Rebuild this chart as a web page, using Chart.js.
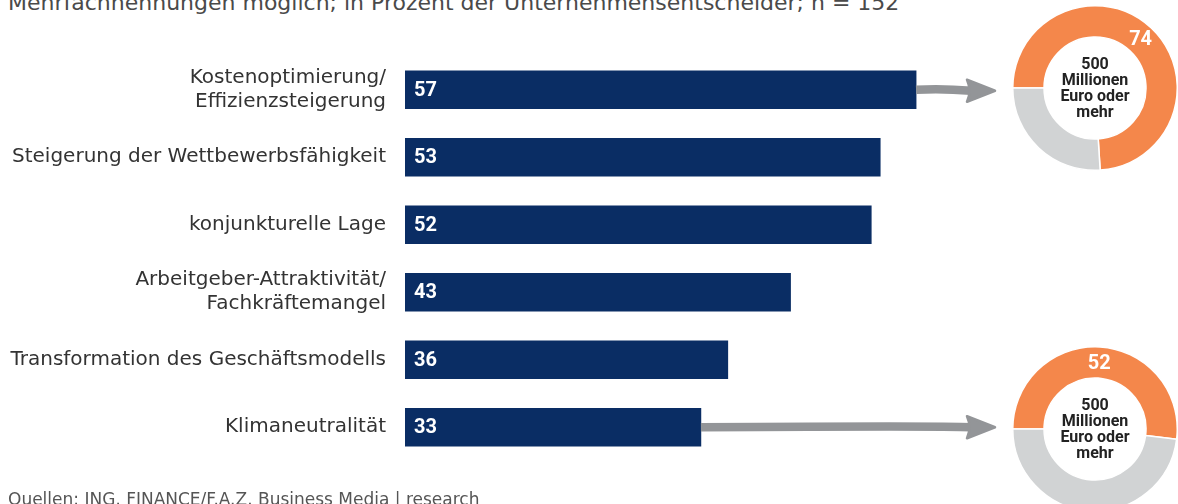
<!DOCTYPE html>
<html lang="de">
<head>
<meta charset="utf-8">
<title>Gründe für Investitionen</title>
<script src="https://cdn.jsdelivr.net/npm/chart.js@4.4.1/dist/chart.umd.min.js"></script>
<style>
  html,body{margin:0;padding:0;background:#fff}
  body{width:1178px;height:504px;position:relative;overflow:hidden;font-family:"DejaVu Sans",sans-serif}
  #sub{position:absolute;left:8px;top:-10px;font-size:22px;line-height:26px;color:#4a4a4a;white-space:nowrap}
  #src{position:absolute;left:8px;top:489px;font-size:17px;line-height:20px;color:#555;white-space:nowrap}
  #bars{position:absolute;left:0;top:0}
  .donut{position:absolute;left:1012px}
</style>
</head>
<body>
<div id="sub">Mehrfachnennungen möglich; in Prozent der Unternehmensentscheider; n = 152</div>
<canvas id="bars" width="1178" height="504"></canvas>
<canvas id="donutTop" class="donut" width="166" height="166" style="top:5px"></canvas>
<canvas id="donutClimate" class="donut" width="166" height="166" style="top:346px"></canvas>
<div id="src">Quellen: ING, FINANCE/F.A.Z. Business Media | research</div>

<script>
/* ---------- data ---------- */
const categories = [
  ['Kostenoptimierung/', 'Effizienzsteigerung'],
  'Steigerung der Wettbewerbsfähigkeit',
  'konjunkturelle Lage',
  ['Arbeitgeber-Attraktivität/', 'Fachkräftemangel'],
  'Transformation des Geschäftsmodells',
  'Klimaneutralität'
];
const shares = [57, 53, 52, 43, 36, 33];

// Firmen mit 500 Mio. Euro Umsatz oder mehr
const bigFirmLabels  = ['500 Mio. Euro oder mehr', 'übrige'];
const bigFirmCost    = [74, 26];   // Kostenoptimierung
const bigFirmClimate = [52, 48];   // Klimaneutralität
const donutCaption   = ['500', 'Millionen', 'Euro oder', 'mehr'];

/* ---------- look ---------- */
const NAVY   = '#0a2d64';
const ORANGE = '#f4874b';
const LGRAY  = '#d1d3d4';
const ARROW  = '#939598';
const DONUT_CX = 1095, DONUT_R = 82;   // donut centre/radius on the page

Chart.defaults.font.family = '"DejaVu Sans", sans-serif';
Chart.defaults.animation = false;

/* value inside bars + arrows to the donuts */
const barExtras = {
  id: 'barExtras',
  afterDatasetsDraw(chart){
    const ctx = chart.ctx;
    const bars = chart.getDatasetMeta(0).data;

    ctx.save();
    ctx.fillStyle = '#fff';
    ctx.font = 'bold 20px Roboto, sans-serif';
    ctx.textBaseline = 'middle';
    bars.forEach((b, i) => ctx.fillText(shares[i], b.base + 9, b.y + 1));
    ctx.restore();

    const tipX = DONUT_CX - DONUT_R - 18;
    drawArrow(ctx, bars[0].x, bars[0].y, tipX, bars[0].y + 1);
    drawArrow(ctx, bars[5].x, bars[5].y, tipX, bars[5].y);
  }
};

function drawArrow(ctx, x0, y0, tipX, tipY){
  const headLen = 28, headHalf = 11, baseX = tipX - headLen;
  ctx.save();
  ctx.strokeStyle = ARROW; ctx.fillStyle = ARROW;
  ctx.lineWidth = 8.5;
  ctx.beginPath();
  ctx.moveTo(x0, y0);
  ctx.quadraticCurveTo(baseX - 25, y0 - 1.5, baseX + 4, tipY);
  ctx.stroke();
  ctx.lineWidth = 2.5; ctx.lineJoin = 'round';
  ctx.beginPath();
  ctx.moveTo(baseX, tipY - headHalf);
  ctx.lineTo(tipX, tipY);
  ctx.lineTo(baseX, tipY + headHalf);
  ctx.quadraticCurveTo(baseX + 5, tipY, baseX, tipY - headHalf);
  ctx.closePath();
  ctx.fill(); ctx.stroke();
  ctx.restore();
}

new Chart(document.getElementById('bars'), {
  type: 'bar',
  data: {
    labels: categories,
    datasets: [{ data: shares, backgroundColor: NAVY, borderWidth: 0, barThickness: 38 }]
  },
  options: {
    indexAxis: 'y',
    responsive: false,
    events: [],
    layout: { padding: { top: 56, bottom: 39, right: 235, left: 0 } },
    plugins: { legend: { display: false }, tooltip: { enabled: false } },
    scales: {
      x: { min: 0, max: 60, display: false },
      y: {
        grid: { display: false, drawTicks: false },
        border: { display: false },
        ticks: { padding: 19, color: '#333', font: { size: 20, lineHeight: 1.2 } },
        afterFit(s){ s.width = 405; }
      }
    }
  },
  plugins: [barExtras]
});

/* caption in the hole + value on the orange arc */
const donutText = {
  id: 'donutText',
  afterDatasetsDraw(chart){
    const ctx = chart.ctx;
    const arc = chart.getDatasetMeta(0).data[0];
    ctx.save();
    ctx.textAlign = 'center';
    ctx.textBaseline = 'middle';
    ctx.fillStyle = '#222';
    ctx.font = 'bold 16px Roboto, sans-serif';
    const lh = 16.3, y0 = arc.y - lh * (donutCaption.length - 1) / 2;
    donutCaption.forEach((t, i) => ctx.fillText(t, arc.x, y0 + i * lh + 1));
    const p = arc.tooltipPosition();
    ctx.fillStyle = '#fff';
    ctx.font = 'bold 20px Roboto, sans-serif';
    ctx.fillText(chart.data.datasets[0].data[0], p.x, p.y + 1);
    ctx.restore();
  }
};

function donut(id, values){
  new Chart(document.getElementById(id), {
    type: 'doughnut',
    data: {
      labels: bigFirmLabels,
      datasets: [{ data: values, backgroundColor: [ORANGE, LGRAY], borderColor: '#fff', borderWidth: 1.5 }]
    },
    options: {
      responsive: false,
      events: [],
      rotation: -90,
      cutout: '62%',
      plugins: { legend: { display: false }, tooltip: { enabled: false } }
    },
    plugins: [donutText]
  });
}
donut('donutTop', bigFirmCost);
donut('donutClimate', bigFirmClimate);
</script>
</body>
</html>
